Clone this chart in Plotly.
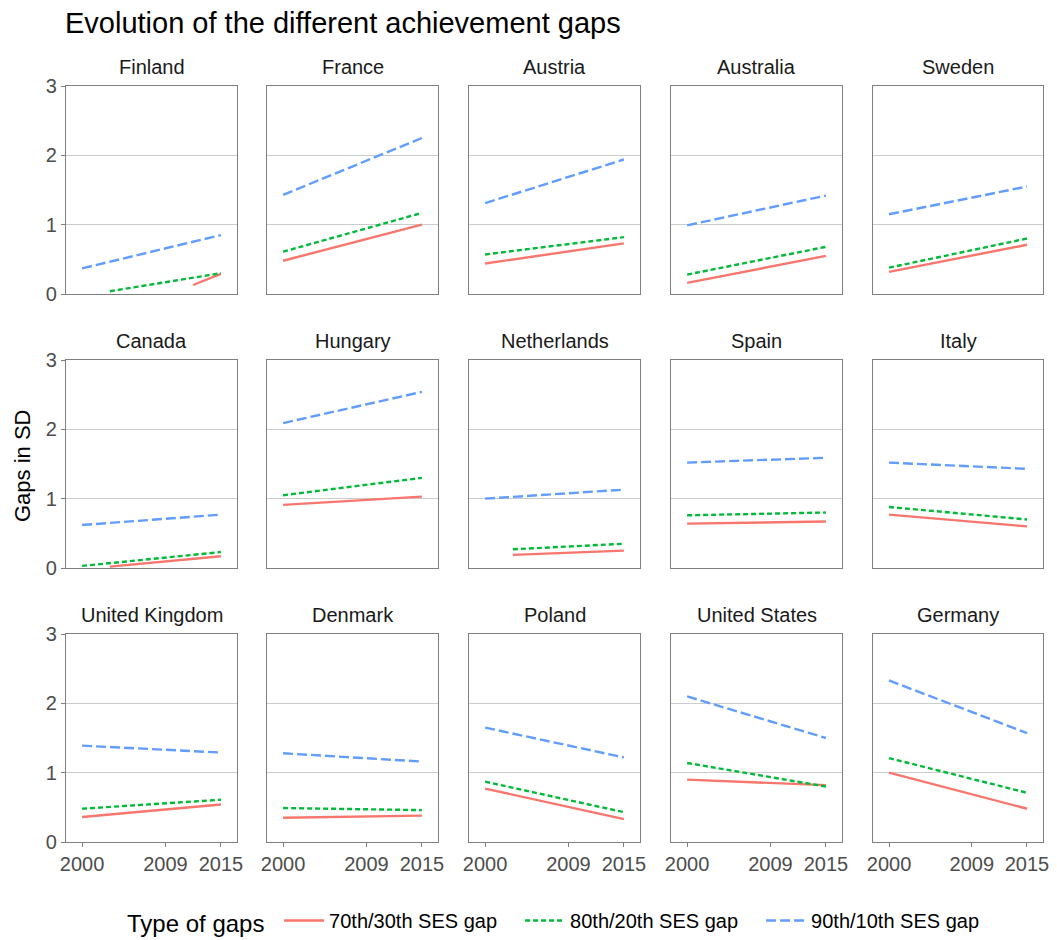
import plotly.graph_objects as go

# Countries in facet order (row by row)
countries = ["Finland", "France", "Austria", "Australia", "Sweden",
             "Canada", "Hungary", "Netherlands", "Spain", "Italy",
             "United Kingdom", "Denmark", "Poland", "United States", "Germany"]

end_year = 2015
year_ticks = [2000, 2009, 2015]
gap_ticks = [0, 1, 2, 3]

# 70th/30th SES gap: first year available, value then, value in 2015
start_7030 = [2012, 2000, 2000, 2000, 2000, 2003, 2000, 2003, 2000, 2000, 2000, 2000, 2000, 2000, 2000]
first_7030 = [0.13, 0.48, 0.44, 0.16, 0.32, 0.02, 0.91, 0.19, 0.64, 0.77, 0.36, 0.35, 0.77, 0.90, 1.00]
last_7030 = [0.29, 1.00, 0.73, 0.55, 0.71, 0.17, 1.03, 0.25, 0.67, 0.60, 0.54, 0.38, 0.33, 0.82, 0.48]

# 80th/20th SES gap
start_8020 = [2003, 2000, 2000, 2000, 2000, 2000, 2000, 2003, 2000, 2000, 2000, 2000, 2000, 2000, 2000]
first_8020 = [0.04, 0.61, 0.57, 0.28, 0.38, 0.03, 1.05, 0.27, 0.76, 0.88, 0.48, 0.49, 0.87, 1.14, 1.21]
last_8020 = [0.30, 1.17, 0.82, 0.68, 0.80, 0.23, 1.30, 0.35, 0.80, 0.70, 0.61, 0.46, 0.43, 0.80, 0.71]

# 90th/10th SES gap
start_9010 = [2000] * 15
first_9010 = [0.37, 1.43, 1.31, 0.99, 1.15, 0.62, 2.09, 1.00, 1.52, 1.52, 1.39, 1.28, 1.65, 2.10, 2.33]
last_9010 = [0.85, 2.25, 1.94, 1.42, 1.55, 0.77, 2.54, 1.13, 1.59, 1.43, 1.29, 1.16, 1.22, 1.50, 1.57]

gap_names = ["70th/30th SES gap", "80th/20th SES gap", "90th/10th SES gap"]
gap_colors = ["#F8766D", "#00BA38", "#619CFF"]
gap_dashes = ["solid", "5px,3px", "10px,4px"]
gap_series = [(start_7030, first_7030, last_7030),
              (start_8020, first_8020, last_8020),
              (start_9010, first_9010, last_9010)]

W, H = 1057, 940
FONT = "Liberation Sans, Arial, sans-serif"
col_px = [(66, 237), (267, 438), (469, 640), (671, 842), (873, 1043)]
row_px = [(86, 294), (360, 568), (634, 842)]

fig = go.Figure()
layout = dict(
    width=W, height=H, autosize=False,
    margin=dict(l=0, r=0, t=0, b=0, autoexpand=False),
    paper_bgcolor="white", plot_bgcolor="white",
    font=dict(family=FONT, color="#000000"),
    title=dict(text="Evolution of the different achievement gaps",
               x=65 / W, xanchor="left", y=1 - 23 / H, yanchor="middle",
               font=dict(size=29, family=FONT, color="#000000")),
    legend=dict(orientation="h", x=125 / W, xanchor="left",
                y=1 - 922 / H, yanchor="middle",
                title=dict(text="Type of gaps ", font=dict(size=24, family=FONT)),
                font=dict(size=20, family=FONT, color="#000000"),
                bgcolor="rgba(0,0,0,0)", itemwidth=40,
                entrywidth=186, entrywidthmode="pixels"),
)
annotations = []

for i, country in enumerate(countries):
    r, c = divmod(i, 5)
    idx = "" if i == 0 else str(i + 1)
    x0, x1 = col_px[c]
    y0, y1 = row_px[r]
    bottom = r == 2
    left = c == 0
    layout["xaxis" + idx] = dict(
        domain=[x0 / W, x1 / W], anchor="y" + idx,
        range=[1998.26, 2016.74], tickvals=year_ticks,
        showticklabels=bottom, ticks="outside" if bottom else "",
        ticklen=4, tickwidth=1.2, tickcolor="#7f7f7f",
        tickfont=dict(size=20, color="#4d4d4d", family=FONT),
        showgrid=False, zeroline=False,
        showline=True, mirror=True, linecolor="#7f7f7f", linewidth=1.3,
    )
    layout["yaxis" + idx] = dict(
        domain=[1 - y1 / H, 1 - y0 / H], anchor="x" + idx,
        range=[0, 3], tickvals=gap_ticks,
        showticklabels=left, ticks="outside" if left else "",
        ticklen=4, tickwidth=1.2, tickcolor="#7f7f7f",
        tickfont=dict(size=20, color="#4d4d4d", family=FONT),
        showgrid=True, gridcolor="#cccccc", gridwidth=1.2, zeroline=False,
        showline=True, mirror=True, linecolor="#7f7f7f", linewidth=1.3,
    )
    annotations.append(dict(
        text=country, x=(x0 + x1) / 2 / W, y=1 - (y0 - 19) / H,
        xref="paper", yref="paper", xanchor="center", yanchor="middle",
        showarrow=False, font=dict(size=20, family=FONT, color="#1a1a1a")))

    for g, (starts, firsts, lasts) in enumerate(gap_series):
        fig.add_trace(go.Scatter(
            x=[starts[i], end_year], y=[firsts[i], lasts[i]],
            mode="lines", name=gap_names[g], legendgroup=gap_names[g],
            showlegend=(i == 0),
            line=dict(color=gap_colors[g], width=2.4, dash=gap_dashes[g]),
            xaxis="x" + idx, yaxis="y" + idx, hoverinfo="skip"))

annotations.append(dict(
    text="Gaps in SD", x=22 / W, y=1 - 466 / H, xref="paper", yref="paper",
    textangle=-90, showarrow=False, xanchor="center", yanchor="middle",
    font=dict(size=22, family=FONT, color="#000000")))
layout["annotations"] = annotations

fig.update_layout(**layout)
fig.write_html("out.html")
